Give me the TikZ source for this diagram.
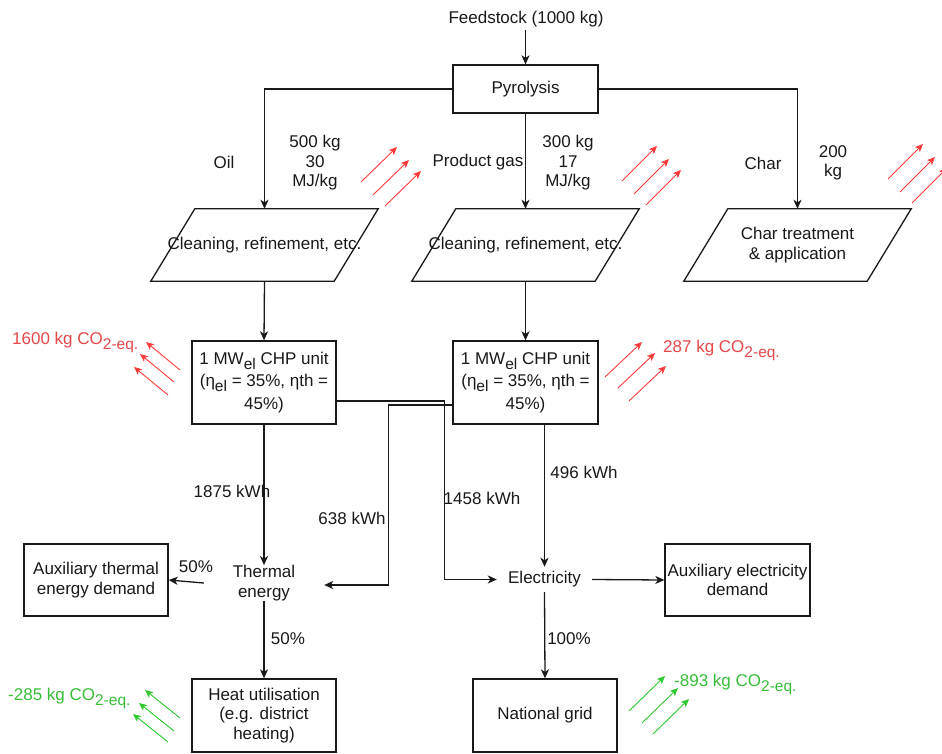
\documentclass[tikz,border=0pt]{standalone}
\usepackage{fontspec}
\setmainfont{Liberation Sans}
\usetikzlibrary{arrows.meta,calc}
\definecolor{ink}{RGB}{25,25,25}
\definecolor{emred}{RGB}{255,60,60}
\definecolor{txred}{RGB}{228,72,72}
\definecolor{emgreen}{RGB}{45,200,45}
\definecolor{txgreen}{RGB}{55,190,55}
\newcommand\lowsub[1]{\raisebox{-5pt}{\fontsize{15.5}{15.5}\selectfont #1}}
\begin{document}
\begin{tikzpicture}[x=1pt,y=-1pt,
  font=\fontsize{17}{19.5}\selectfont,
  every node/.style={text=ink},
  boxline/.style={draw=ink, line width=1.3pt},
  box/.style={boxline, minimum width=144pt, minimum height=72pt, align=center, inner sep=2pt},
  chpbox/.style={box, minimum height=83pt, font=\fontsize{17}{22.5}\selectfont},
  para/.style={minimum width=227pt, minimum height=72pt, inner sep=0pt, align=center},
  arr/.style={draw=ink, line width=1.3pt, -{Stealth[length=9pt,width=8pt,inset=2.5pt]}},
  emr/.style={draw=emred, line width=0.9pt, -{Stealth[length=8pt,width=7pt,inset=2pt]}},
  emg/.style={draw=emgreen, line width=0.9pt, -{Stealth[length=8pt,width=7pt,inset=2pt]}},
  lbl/.style={align=center, inner sep=1pt}]
\fill[white] (0,0) rectangle (942,754);
\useasboundingbox (0,0) rectangle (942,754);
\clip (0,0) rectangle (942,754);

% top
\node (feed) at (526,19) {Feedstock (1000 kg)};
\node[box, minimum height=48pt, minimum width=145pt] (pyro) at (525.5,89) {Pyrolysis};

% parallelograms
\node[para] (cl1) at (264.5,245) {Cleaning, refinement, etc.};
\node[para] (cl2) at (525.5,245) {Cleaning, refinement, etc.};
\node[para] (cl3) at (797.5,245) {Char treatment\\ \& application};
\foreach \n in {cl1,cl2,cl3}
  \draw[boxline] ($(\n.north west)+(44,0)$) -- (\n.north east) -- ($(\n.south east)+(-44,0)$) -- (\n.south west) -- cycle;

% CHP units
\node[chpbox] (chp1) at (264,382.5) {1 MW\lowsub{el} CHP unit\\(η\lowsub{el} = 35\%, ηth =\\45\%)};
\node[chpbox, minimum width=145pt] (chp2) at (525.5,382.5) {1 MW\lowsub{el} CHP unit\\(η\lowsub{el} = 35\%, ηth =\\45\%)};

% energy nodes
\node[align=center, minimum width=120pt, minimum height=34pt, inner sep=0pt] (therm) at (264,583) {Thermal\\energy};
\node[minimum width=95pt, minimum height=25pt, inner sep=0pt] (elec) at (544.5,579.5) {Electricity};

% bottom boxes
\node[box] (auxth) at (96,580) {Auxiliary thermal\\energy demand};
\node[box, minimum width=145pt] (auxel) at (737.5,580) {Auxiliary electricity\\demand};
\node[box, minimum height=73pt] (heat) at (264,715.5) {Heat utilisation\\(e.g. district\\heating)};
\node[box, minimum height=73pt] (grid) at (545,715.5) {National grid};

% connectors
\draw[arr] (feed.south -| pyro.north) -- (pyro.north);
\draw[arr] (pyro.west) -| (cl1.north);
\draw[arr] (pyro.south) -- (cl2.north);
\draw[arr] (pyro.east) -| (cl3.north);
\draw[arr] (cl1.south) -- (chp1.north);
\draw[arr] (cl2.south) -- (chp2.north);
\draw[arr] (chp1.south) -- (therm.north);
\draw[arr] (chp2.south -| elec.north) -- (elec.north);
\draw[arr] ([yshift=-18.5pt]chp1.east) -- ++(108,0) |- (elec.west);
\draw[arr] ([yshift=-22.5pt]chp2.west) -- ++(-64,0) |- ([yshift=-2pt]therm.east);
\draw[arr] (therm.west) -- (auxth.east);
\draw[arr] (therm.south) -- (heat.north);
\draw[arr] (elec.east) -- (auxel.west);
\draw[arr] (elec.south) -- (grid.north);

% labels
\node[lbl] (loil) at (224,162) {Oil};
\node[lbl] (loilq) at (315,163) {500 kg\\30\\MJ/kg};
\node[lbl] (lgas) at (478,162) {Product gas};
\node[lbl] (lgasq) at (568,163) {300 kg\\17\\MJ/kg};
\node[lbl] (lchar) at (763,163) {Char};
\node[lbl] (lcharq) at (833,163) {200\\kg};
\node[lbl] (l1875) at (232,491) {1875 kWh};
\node[lbl] (l638) at (352,518) {638 kWh};
\node[lbl] (l1458) at (482,498) {1458 kWh};
\node[lbl] (l496) at (584,472) {496 kWh};
\node[lbl] (lp1) at (196,567) {50\%};
\node[lbl] (lp2) at (288,639) {50\%};
\node[lbl] (lp3) at (569,639) {100\%};

% emissions
\node[anchor=base west, inner sep=0pt, text=txred] (e1) at (12,344) {1600 kg CO\lowsub{2-eq.}};
\node[anchor=base west, inner sep=0pt, text=txred] (e2) at (663,352) {287 kg CO\lowsub{2-eq.}};
\node[anchor=base west, inner sep=0pt, text=txgreen] (e3) at (8,700) {-285 kg CO\lowsub{2-eq.}};
\node[anchor=base west, inner sep=0pt, text=txgreen] (e4) at (674,686) {-893 kg CO\lowsub{2-eq.}};

\foreach \dx/\dy in {0/0,12/13,24/24} {
  \draw[emr] (361+\dx,182+\dy) -- ++(36,-35);
  \draw[emr] (622+\dx,181+\dy) -- ++(35,-35);
  \draw[emr] (888+\dx,179+\dy) -- ++(35,-35);
}
\foreach \dx/\dy in {0/0,13/11,24/24}
  \draw[emr] (605+\dx,377+\dy) -- ++(37,-35);
\foreach \dx/\dy in {0/0,13/12,24/23}
  \draw[emg] (629+\dx,711+\dy) -- ++(36,-35);
\foreach \dx/\dy in {0/0,-6/12,-12/25}
  \draw[emr] (180+\dx,370+\dy) -- ++(-34,-28);
\foreach \dx/\dy in {0/0,-6/13,-12/24}
  \draw[emg] (180+\dx,718+\dy) -- ++(-35,-28);
\end{tikzpicture}
\end{document}
